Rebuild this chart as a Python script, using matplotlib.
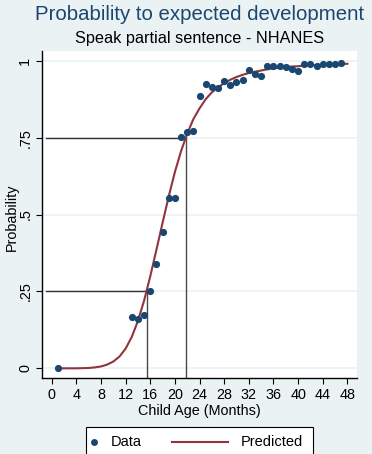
#probability of expected development - speak partial sentence
import matplotlib
matplotlib.use('Agg')
import matplotlib.pyplot as plt
from matplotlib.lines import Line2D
from matplotlib.patches import Rectangle

plt.rcParams['font.family'] = ['Liberation Sans', 'DejaVu Sans']

# observed proportions by age (months)
data_age = [1, 13, 14, 15, 16, 17, 18, 19, 20, 21, 22, 23, 24, 25, 26, 27, 28, 29, 30,
            31, 32, 33, 34, 35, 36, 37, 38, 39, 40, 41, 42, 43, 44, 45, 46, 47]
data_prob = [0.0, 0.166, 0.159, 0.174, 0.252, 0.339, 0.443, 0.554, 0.553, 0.751, 0.767,
             0.771, 0.886, 0.925, 0.913, 0.911, 0.933, 0.920, 0.932, 0.938, 0.970, 0.956,
             0.950, 0.983, 0.982, 0.982, 0.980, 0.974, 0.966, 0.988, 0.990, 0.982, 0.990,
             0.988, 0.990, 0.993]

# predicted curve
pred_age = list(range(1, 49))
pred_prob = [0.0, 0.0, 0.0, 0.0, 0.0005, 0.001, 0.003, 0.006, 0.012, 0.022, 0.038, 0.064,
             0.102, 0.154, 0.220, 0.299, 0.385, 0.473, 0.559, 0.638, 0.706, 0.763, 0.810,
             0.845, 0.875, 0.897, 0.913, 0.927, 0.938, 0.947, 0.954, 0.960, 0.964, 0.968,
             0.972, 0.975, 0.977, 0.979, 0.981, 0.982, 0.984, 0.985, 0.986, 0.987, 0.988,
             0.989, 0.989, 0.990]

# ages where predicted reaches 25% and 75%
ref_prob = [0.25, 0.75]
ref_age = [15.4, 21.75]

x_ticks = list(range(0, 49, 4))
y_ticks = [0, 0.25, 0.5, 0.75, 1]
y_ticklabels = ['0', '.25', '.5', '.75', '1']

bg = '#EAF2F3'
navy = '#1A476F'
maroon = '#90353B'

W, H = 372, 454
fig = plt.figure(figsize=(W / 100, H / 100), dpi=100)
fig.patch.set_facecolor(bg)
ax = fig.add_axes([42 / W, 1 - 378 / H, 315 / W, 327 / H])
ax.set_facecolor('white')

ax.set_xlim(-1.57, 49.56)
ax.set_ylim(-0.0315, 1.0315)

ax.yaxis.grid(True, color=bg, lw=1.2)
ax.set_axisbelow(True)

for p, a in zip(ref_prob, ref_age):
    ax.plot([-0.93, a], [p, p], color='#333333', lw=1.0, zorder=2)
    ax.plot([a, a], [-0.0315, p], color='#4a4a4a', lw=1.0, zorder=2)

ax.plot(pred_age, pred_prob, color=maroon, lw=1.5, zorder=3)
ax.plot(data_age, data_prob, 'o', color=navy, markersize=5.2, markeredgewidth=0, zorder=4)

ax.set_xticks(x_ticks)
ax.set_yticks(y_ticks)
ax.set_yticklabels(y_ticklabels, rotation=90, va='center')
ax.tick_params(axis='both', direction='out', length=4, width=0.8, labelsize=10.4, pad=3)

for s in ['top', 'right']:
    ax.spines[s].set_visible(False)
for s in ['left', 'bottom']:
    ax.spines[s].set_linewidth(1.0)
    ax.spines[s].set_color('black')

ax.set_xlabel('Child Age (Months)', fontsize=10.4, labelpad=2)
fig.text(11.7 / W, 1 - 217 / H, 'Probability', rotation=90, ha='center', va='center', fontsize=10.4)

fig.text(199.5 / W, 1 - 14 / H, 'Probability to expected development', ha='center', va='center',
         fontsize=14.7, color=navy)
fig.text(199.5 / W, 1 - 39 / H, 'Speak partial sentence - NHANES', ha='center', va='center',
         fontsize=11.7)

# legend box (bottom edge falls off the image like in the original)
fig.add_artist(Rectangle((86 / W, 1 - 456 / H), 227 / W, 29 / H, transform=fig.transFigure,
                         facecolor='white', edgecolor='black', lw=0.8))
ly = 1 - 441.5 / H
fig.add_artist(Line2D([94 / W], [ly], marker='o', color=navy, markersize=5, markeredgewidth=0,
                      transform=fig.transFigure))
fig.text(111 / W, ly, 'Data', va='center', fontsize=10.5)
fig.add_artist(Line2D([171.7 / W, 228.3 / W], [ly, ly], color=maroon, lw=1.5, transform=fig.transFigure))
fig.text(241 / W, ly, 'Predicted', va='center', fontsize=10.5)

fig.savefig('out.png', dpi=100, facecolor=bg)
